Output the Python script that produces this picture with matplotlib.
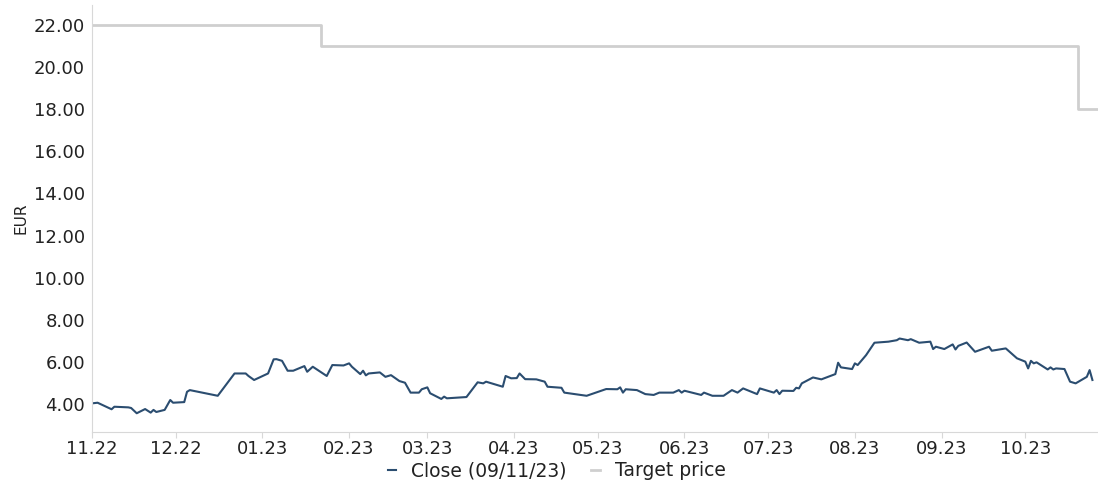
import numpy as np
import matplotlib.pyplot as plt
import matplotlib.dates as mdates

# closing prices (EUR)
close_dates = [
    "2022-11-01", "2022-11-03", "2022-11-08", "2022-11-09", "2022-11-14", "2022-11-15",
    "2022-11-17", "2022-11-20", "2022-11-22", "2022-11-23", "2022-11-24", "2022-11-27",
    "2022-11-29", "2022-11-30", "2022-12-04", "2022-12-05", "2022-12-06", "2022-12-16",
    "2022-12-22", "2022-12-26", "2022-12-27", "2022-12-29", "2023-01-03", "2023-01-05",
    "2023-01-06", "2023-01-08", "2023-01-10", "2023-01-12", "2023-01-16", "2023-01-17",
    "2023-01-19", "2023-01-24", "2023-01-26", "2023-01-30", "2023-02-01", "2023-02-02",
    "2023-02-05", "2023-02-06", "2023-02-07", "2023-02-08", "2023-02-12", "2023-02-14",
    "2023-02-16", "2023-02-19", "2023-02-21", "2023-02-23", "2023-02-26", "2023-02-27",
    "2023-03-01", "2023-03-02", "2023-03-06", "2023-03-07", "2023-03-08", "2023-03-15",
    "2023-03-19", "2023-03-21", "2023-03-22", "2023-03-28", "2023-03-29", "2023-03-31",
    "2023-04-02", "2023-04-03", "2023-04-05", "2023-04-09", "2023-04-12", "2023-04-13",
    "2023-04-18", "2023-04-19", "2023-04-27", "2023-05-04", "2023-05-08", "2023-05-09",
    "2023-05-10", "2023-05-11", "2023-05-15", "2023-05-18", "2023-05-21", "2023-05-23",
    "2023-05-28", "2023-05-30", "2023-05-31", "2023-06-01", "2023-06-07", "2023-06-08",
    "2023-06-11", "2023-06-15", "2023-06-18", "2023-06-20", "2023-06-22", "2023-06-27",
    "2023-06-28", "2023-06-30", "2023-07-03", "2023-07-04", "2023-07-05", "2023-07-06",
    "2023-07-10", "2023-07-11", "2023-07-12", "2023-07-13", "2023-07-17", "2023-07-20",
    "2023-07-24", "2023-07-25", "2023-07-26", "2023-07-27", "2023-07-31", "2023-08-01",
    "2023-08-02", "2023-08-05", "2023-08-08", "2023-08-13", "2023-08-16", "2023-08-17",
    "2023-08-20", "2023-08-21", "2023-08-24", "2023-08-28", "2023-08-29", "2023-08-30",
    "2023-09-02", "2023-09-05", "2023-09-06", "2023-09-07", "2023-09-10", "2023-09-13",
    "2023-09-18", "2023-09-19", "2023-09-24", "2023-09-28", "2023-10-01", "2023-10-02",
    "2023-10-03", "2023-10-04", "2023-10-05", "2023-10-09", "2023-10-10", "2023-10-11",
    "2023-10-12", "2023-10-15", "2023-10-17", "2023-10-19", "2023-10-23", "2023-10-24",
    "2023-10-25",
]
close_values = [
    4.03, 4.06, 3.75, 3.87, 3.84, 3.81,
    3.56, 3.76, 3.59, 3.72, 3.62, 3.72,
    4.19, 4.06, 4.09, 4.58, 4.66, 4.39,
    5.45, 5.45, 5.33, 5.14, 5.45, 6.12,
    6.13, 6.05, 5.58, 5.58, 5.80, 5.53,
    5.77, 5.33, 5.85, 5.83, 5.93, 5.77,
    5.42, 5.58, 5.36, 5.45, 5.50, 5.29,
    5.37, 5.09, 5.01, 4.54, 4.54, 4.70,
    4.79, 4.51, 4.24, 4.35, 4.27, 4.33,
    5.03, 4.98, 5.06, 4.82, 5.33, 5.22,
    5.23, 5.45, 5.18, 5.17, 5.06, 4.82,
    4.77, 4.54, 4.39, 4.71, 4.70, 4.79,
    4.54, 4.70, 4.66, 4.47, 4.43, 4.54,
    4.54, 4.66, 4.54, 4.63, 4.43, 4.54,
    4.39, 4.39, 4.66, 4.54, 4.74, 4.47,
    4.74, 4.66, 4.54, 4.66, 4.47, 4.63,
    4.62, 4.77, 4.74, 4.98, 5.26, 5.17,
    5.37, 5.42, 5.96, 5.74, 5.66, 5.93,
    5.85, 6.32, 6.91, 6.96, 7.03, 7.11,
    7.03, 7.08, 6.91, 6.96, 6.61, 6.72,
    6.61, 6.83, 6.59, 6.76, 6.92, 6.48,
    6.72, 6.53, 6.64, 6.17, 6.01, 5.69,
    6.05, 5.93, 5.98, 5.64, 5.74, 5.64,
    5.69, 5.66, 5.06, 4.98, 5.29, 5.61,
    5.14,
]

# analyst target price (step changes)
target_dates = ["2022-11-01", "2023-01-22", "2023-10-20", "2023-10-27"]
target_values = [22.0, 21.0, 18.0, 18.0]

close_x = np.array(close_dates, dtype="datetime64[D]")
target_x = np.array(target_dates, dtype="datetime64[D]")

plt.rcParams["font.family"] = ["DejaVu Sans"]

fig = plt.figure(figsize=(10.98, 4.83), dpi=100)
ax = fig.add_axes([0.0838, 0.1056, 0.9162, 0.884])

ax.step(target_x, target_values, where="post", color="#cfcfcf", lw=2,
        label="Target price")
ax.plot(close_x, close_values, color="#2b4d70", lw=1.5, label="Close (09/11/23)")

ax.set_xlim(np.datetime64("2022-11-01"), np.datetime64("2023-10-27"))
ax.set_ylim(2.67, 22.95)
ax.set_yticks(np.arange(4, 23, 2))
ax.yaxis.set_major_formatter(plt.FormatStrFormatter("%.2f"))
ax.xaxis.set_major_locator(mdates.MonthLocator())
ax.xaxis.set_major_formatter(mdates.DateFormatter("%m.%y"))

for side in ["top", "right"]:
    ax.spines[side].set_visible(False)
for side in ["left", "bottom"]:
    ax.spines[side].set_color("#d8d8d8")
ax.tick_params(axis="y", length=0, pad=5, labelsize=13, labelcolor="#222222")
ax.tick_params(axis="x", length=4, color="#d8d8d8", pad=2, labelsize=13,
               labelcolor="#222222")
ax.set_ylabel("EUR", fontsize=11, color="#222222", labelpad=4)

handles, labels = ax.get_legend_handles_labels()
fig.legend(handles[::-1], labels[::-1], loc="center", bbox_to_anchor=(0.507, 0.025),
           ncol=2, frameon=False, fontsize=13.5, handlelength=0.45,
           handletextpad=0.8, columnspacing=1.3, labelcolor="#222222")

fig.savefig("out.png", dpi=100)
